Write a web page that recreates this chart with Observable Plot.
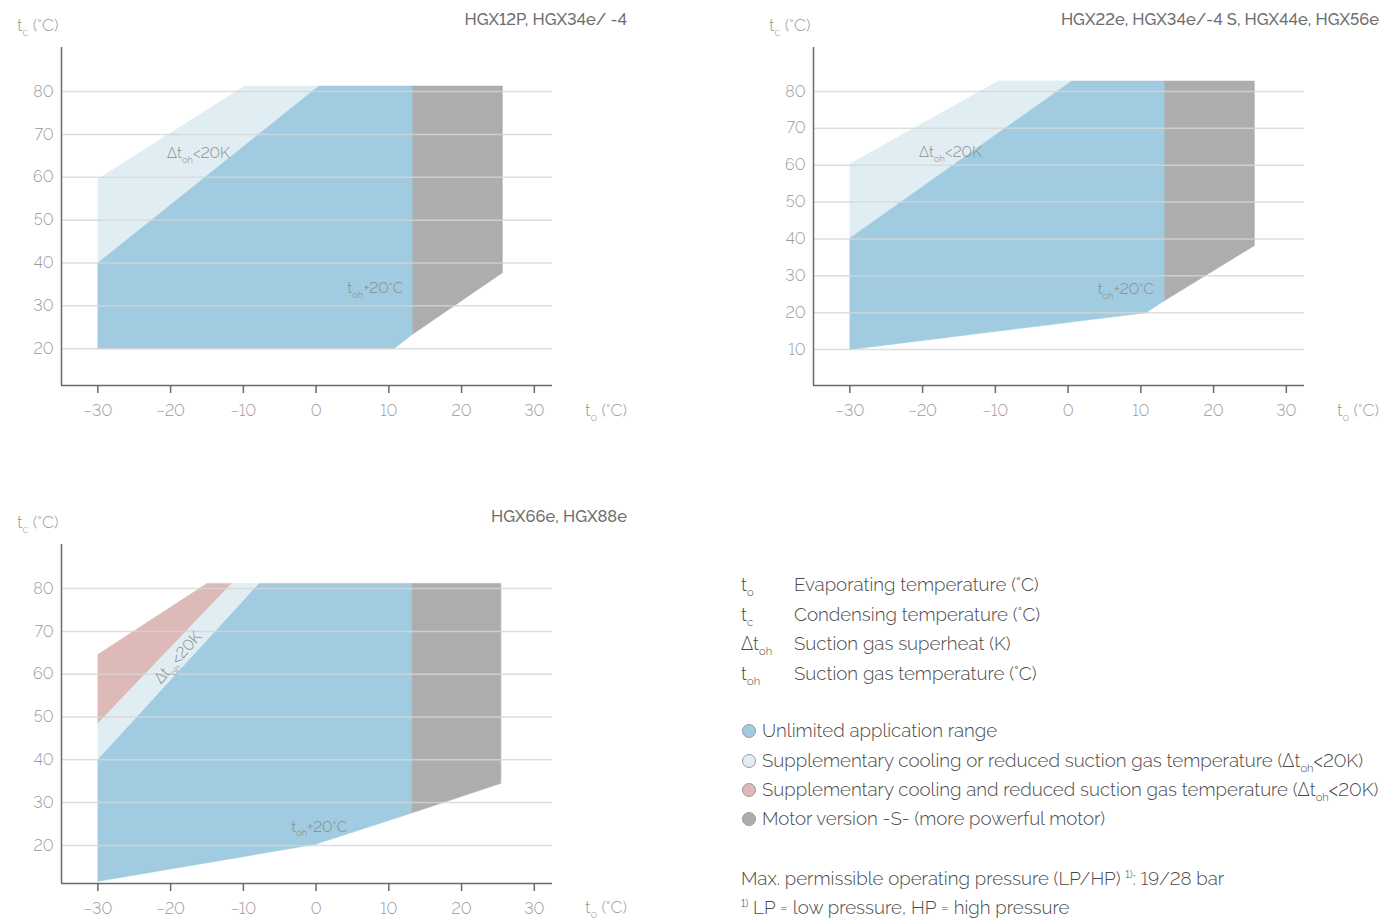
<!DOCTYPE html>
<html><head><meta charset="utf-8">
<script src="https://cdn.jsdelivr.net/npm/d3@7"></script>
<script src="https://cdn.jsdelivr.net/npm/@observablehq/plot@0.6"></script>
<style>
body{margin:0;background:#fff;width:1379px;height:922px;overflow:hidden;position:relative;font-family:Raleway,Lato,"Open Sans",sans-serif;font-variant-numeric:lining-nums;}
svg text{font-variant-numeric:lining-nums !important;font-feature-settings:"lnum" 1;}
.abs{position:absolute;white-space:nowrap;line-height:20px;font-feature-settings:"lnum" 1;}
.title{font-size:16.5px;color:#6e6e6e;font-weight:500;text-align:right;}
.axlab{font-size:17.5px;color:#9a9a9a;font-weight:300;}
.s{font-size:0.6em;position:relative;top:0.45em;}
.leg{font-size:18.7px;color:#4a4a4a;font-weight:300;line-height:22px;}
.dot{position:absolute;width:14px;height:14px;border-radius:50%;border:1px solid #9a9a9a;box-sizing:border-box;}
</style>
</head><body>
<div id="root"></div>
<script>
// ---- data ----
const xDomain = [-35, 32.5];
const xTicks = [-30, -20, -10, 0, 10, 20, 30];

const yDomain1 = [11.4, 90.3];
const yTicks1 = [20, 30, 40, 50, 60, 70, 80];
const c1Light = [[-30, 40], [-30, 59.6], [-9.8, 81.3], [0.4, 81.3]];
const c1Blue = [[-30, 20], [-30, 40], [0.4, 81.3], [13.2, 81.3], [13.2, 23.3], [10.7, 20]];
const c1Gray = [[13.2, 81.3], [25.6, 81.3], [25.6, 37.7], [13.2, 23.3]];

const yDomain2 = [0.25, 91.9];
const yTicks2 = [10, 20, 30, 40, 50, 60, 70, 80];
const c2Light = [[-30, 40.2], [-30, 60.3], [-9.6, 82.8], [0.5, 82.8]];
const c2Blue = [[-30, 10], [-30, 40.2], [0.5, 82.8], [13.2, 82.8], [13.2, 23.2], [10.7, 20]];
const c2Gray = [[13.2, 82.8], [25.6, 82.8], [25.6, 38.2], [13.2, 23.2]];

const yDomain3 = [11.1, 90.3];
const yTicks3 = [20, 30, 40, 50, 60, 70, 80];
const c3Red = [[-30, 48.5], [-30, 64.6], [-15, 81.2], [-11.6, 81.2]];
const c3Light = [[-30, 40], [-30, 48.5], [-11.6, 81.2], [-7.8, 81.2]];
const c3Blue = [[-30, 11.6], [-30, 40], [-7.8, 81.2], [13.1, 81.2], [13.1, 27.55], [0, 20.3]];
const c3Gray = [[13.1, 81.2], [25.4, 81.2], [25.4, 34.5], [13.1, 27.55]];

const titles = ["HGX12P, HGX34e/ -4", "HGX22e, HGX34e/-4 S, HGX44e, HGX56e", "HGX66e, HGX88e"];
const superheatLabel = "Δt{oh}<20K";
const suctionLabel = "t{oh}+20°C";
// label anchor positions [x, y]
const c1Labels = [[-20.5, 65.7], [12.0, 34.2]];
const c2Labels = [[-20.5, 63.5], [11.8, 26.3]];
const c3Labels = [[-19.0, 63.9], [4.3, 24.4]];

const colors = {blue: "#a0cbe0", light: "#e0edf3", gray: "#adadad", red: "#ddb9b8"};

const legendSymbols = [["t", "o"], ["t", "c"], ["Δt", "oh"], ["t", "oh"]];
const legendDefs = ["Evaporating temperature (°C)", "Condensing temperature (°C)", "Suction gas superheat (K)", "Suction gas temperature (°C)"];
const legendKeys = ["blue", "light", "red", "gray"];
const legendTexts = [
  "Unlimited application range",
  "Supplementary cooling or reduced suction gas temperature (Δt<span class='s'>oh</span><20K)",
  "Supplementary cooling and reduced suction gas temperature (Δt<span class='s'>oh</span><20K)",
  "Motor version -S- (more powerful motor)"
];

// ---- helpers ----
function poly(pts, fill) {
  return Plot.line(pts.concat([pts[0]]), {x: d => d[0], y: d => d[1], fill, stroke: fill, strokeWidth: 0.6, curve: "linear"});
}
function subify(svg, fs) {
  d3.select(svg).selectAll("text").each(function () {
    const s = this.textContent;
    if (!s.includes("{")) return;
    const parts = s.split(/(\{[^}]*\})/).filter(p => p);
    const el = d3.select(this); el.text(null);
    let shifted = false;
    for (const p of parts) {
      if (p.startsWith("{")) {
        el.append("tspan").attr("font-size", fs * 0.6).attr("dy", fs * 0.32).text(p.slice(1, -1));
        shifted = true;
      } else {
        const ts = el.append("tspan").text(p);
        if (shifted) { ts.attr("dy", -fs * 0.32); shifted = false; }
      }
    }
  });
}

function chart({polys, yDomain, yTicks, labels, rotate, width, height, marginBottom}) {
  const marks = [];
  for (const [pts, c] of polys) marks.push(poly(pts, colors[c]));
  marks.push(Plot.gridY(yTicks, {stroke: "#d6d6d6", strokeOpacity: 0.8, strokeWidth: 1.5}));
  marks.push(Plot.ruleX([xDomain[0]], {stroke: "#6a6a6a", strokeWidth: 1.5}));
  marks.push(Plot.ruleY([yDomain[0]], {stroke: "#6a6a6a", strokeWidth: 1.5}));
  marks.push(Plot.axisX(xTicks, {tickSize: 8, tickPadding: 11, stroke: "#6a6a6a", fill: "#9a9a9a", strokeWidth: 1.5, fontSize: 16, label: null}));
  marks.push(Plot.axisY(yTicks, {tickSize: 0, tickPadding: 8, fill: "#9a9a9a", fontSize: 16, label: null}));
  marks.push(Plot.text([labels[0]], {x: d => d[0], y: d => d[1], text: () => superheatLabel, textAnchor: rotate ? "middle" : "start", rotate: rotate || 0, fill: "#8c8c8c", fontSize: 15.5}));
  marks.push(Plot.text([labels[1]], {x: d => d[0], y: d => d[1], text: () => suctionLabel, textAnchor: "end", fill: "#8c8c8c", fontSize: 15.5}));
  const svg = Plot.plot({
    width, height, marginLeft: 61, marginRight: width - 61 - 491, marginTop: 47, marginBottom,
    x: {domain: xDomain},
    y: {domain: yDomain},
    style: {fontFamily: "Raleway, Lato, 'Open Sans', sans-serif", fontSize: "16px", fontWeight: 300, background: "transparent", overflow: "visible"},
    marks
  });
  subify(svg, 15.5);
  return svg;
}

const root = document.getElementById("root");
function place(el, left, top) {
  const d = document.createElement("div");
  d.className = "abs"; d.style.left = left + "px"; d.style.top = top + "px";
  d.appendChild(el); root.appendChild(d); return d;
}
function html(h, cls, left, top, extra) {
  const d = document.createElement("div");
  d.className = "abs " + cls;
  if (left !== null) d.style.left = left + "px";
  d.style.top = top + "px";
  if (extra) Object.assign(d.style, extra);
  d.innerHTML = h; root.appendChild(d); return d;
}

place(chart({polys: [[c1Light, "light"], [c1Gray, "gray"], [c1Blue, "blue"]], yDomain: yDomain1, yTicks: yTicks1, labels: c1Labels, width: 640, height: 440, marginBottom: 55}), 0, 0);
place(chart({polys: [[c2Light, "light"], [c2Gray, "gray"], [c2Blue, "blue"]], yDomain: yDomain2, yTicks: yTicks2, labels: c2Labels, width: 627, height: 440, marginBottom: 55}), 752, 0);
place(chart({polys: [[c3Red, "red"], [c3Light, "light"], [c3Gray, "gray"], [c3Blue, "blue"]], yDomain: yDomain3, yTicks: yTicks3, labels: c3Labels, rotate: -49, width: 640, height: 425, marginBottom: 39}), 0, 497);

// titles and axis labels
html(titles[0], "title", 0, 9, {width: "627px"});
html(titles[1], "title", 752, 9, {width: "627px"});
html(titles[2], "title", 0, 506, {width: "627px"});
const yLab = "t<span class='s'>c</span> (°C)";
const xLab = "t<span class='s'>o</span> (°C)";
html(yLab, "axlab", 17, 15);
html(yLab, "axlab", 769, 15);
html(yLab, "axlab", 17, 512);
html(xLab, "axlab", null, 400, {right: "752px"});
html(xLab, "axlab", null, 400, {right: "0px"});
html(xLab, "axlab", null, 897, {right: "752px"});

// legend: definitions
const defY = [585, 615, 644, 674];
legendSymbols.forEach((s, i) => {
  html(`${s[0]}<span class='s'>${s[1]}</span>`, "leg", 741, defY[i] - 12);
  html(legendDefs[i], "leg", 794, defY[i] - 12);
});
const keyY = [731, 761, 790, 819];
legendKeys.forEach((k, i) => {
  const dot = document.createElement("div");
  dot.className = "dot"; dot.style.left = "742px"; dot.style.top = (keyY[i] - 7) + "px";
  dot.style.background = colors[k]; root.appendChild(dot);
  html(legendTexts[i], "leg", 762, keyY[i] - 12);
});
html("Max. permissible operating pressure (LP/HP) <span style='font-size:0.6em;position:relative;top:-0.6em'>1)</span>: 19/28 bar", "leg", 741, 867);
html("<span style='font-size:0.6em;position:relative;top:-0.6em'>1)</span> LP = low pressure, HP = high pressure", "leg", 741, 896);
</script>
</body></html>
